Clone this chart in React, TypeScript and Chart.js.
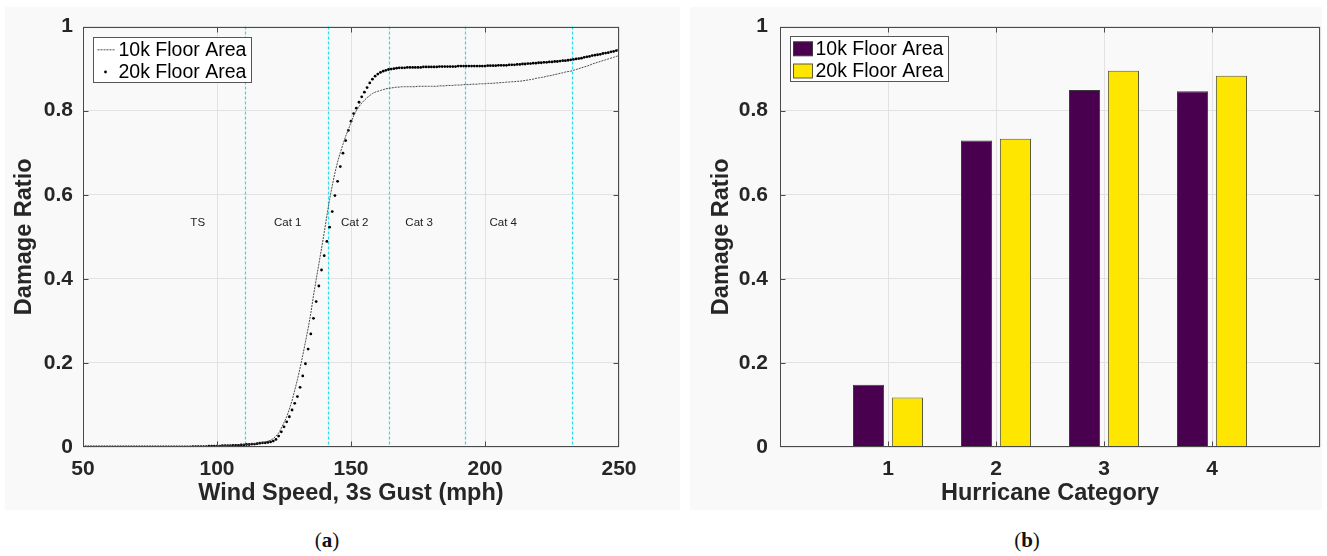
import React, { useEffect, useRef } from 'react';
import { Chart, registerables } from 'chart.js';

Chart.register(...registerables);

const FONT = "'Liberation Sans', Arial, Helvetica, sans-serif";
const TEXT_COLOR = '#262626';
const GRID_COLOR = '#e2e2e2';
const PANEL_BG = '#f9f9f9';

// ---------- Panel (a): damage ratio vs wind speed ----------
const windStart = 50;
const windEnd = 250;
const windSpeeds: number[] = Array.from({ length: windEnd - windStart + 1 }, (_, i) => windStart + i);

const damage10k: number[] = [
  // 50-89
  0, 0, 0, 0, 0, 0, 0, 0, 0, 0, 0, 0, 0, 0, 0, 0, 0, 0, 0, 0,
  0, 0, 0, 0, 0, 0, 0, 0, 0, 0, 0, 0, 0, 0, 0, 0, 0, 0, 0, 0,
  // 90-120
  0.000, 0.001, 0.001, 0.001, 0.001, 0.001, 0.001, 0.002, 0.002, 0.002,
  0.002, 0.003, 0.003, 0.003, 0.003, 0.004, 0.004, 0.004, 0.005, 0.005,
  0.006, 0.006, 0.007, 0.008, 0.008, 0.009, 0.010, 0.011, 0.012, 0.014, 0.016,
  // 121-168
  0.020, 0.026, 0.033, 0.045, 0.058, 0.072, 0.090, 0.110, 0.135, 0.160,
  0.188, 0.218, 0.250, 0.282, 0.318, 0.360, 0.398, 0.435, 0.472, 0.510,
  0.550, 0.588, 0.622, 0.652, 0.678, 0.700, 0.720, 0.739, 0.755, 0.772,
  0.788, 0.800, 0.810, 0.818, 0.825, 0.831, 0.836, 0.841, 0.844, 0.846,
  0.848, 0.850, 0.852, 0.853, 0.854, 0.855, 0.856, 0.856,
  // 169-250
  0.857, 0.857, 0.857, 0.857, 0.857, 0.857, 0.858, 0.858, 0.858, 0.858, 0.858, 0.858,
  0.858, 0.858, 0.859, 0.859, 0.859, 0.860, 0.860, 0.860, 0.861, 0.861,
  0.861, 0.862, 0.862, 0.862, 0.863, 0.863, 0.863, 0.864, 0.864, 0.864,
  0.865, 0.865, 0.865, 0.866, 0.866, 0.867, 0.867, 0.868, 0.868, 0.869,
  0.869, 0.870, 0.870, 0.871, 0.872, 0.873, 0.874, 0.875, 0.877, 0.878,
  0.879, 0.880, 0.882, 0.883, 0.884, 0.886, 0.887, 0.889, 0.890, 0.892,
  0.893, 0.894, 0.896, 0.898, 0.900, 0.902, 0.904, 0.906, 0.908, 0.911,
  0.913, 0.915, 0.917, 0.919, 0.921, 0.923, 0.925, 0.927, 0.929, 0.931,
];

const damage20k: number[] = [
  // 50-89
  0, 0, 0, 0, 0, 0, 0, 0, 0, 0, 0, 0, 0, 0, 0, 0, 0, 0, 0, 0,
  0, 0, 0, 0, 0, 0, 0, 0, 0, 0, 0, 0, 0, 0, 0, 0, 0, 0, 0, 0,
  // 90-120
  0.000, 0.001, 0.001, 0.001, 0.001, 0.001, 0.001, 0.002, 0.002, 0.002,
  0.002, 0.002, 0.003, 0.003, 0.003, 0.003, 0.004, 0.004, 0.004, 0.005,
  0.005, 0.006, 0.006, 0.007, 0.007, 0.008, 0.009, 0.010, 0.010, 0.011, 0.012,
  // 121-168
  0.014, 0.018, 0.026, 0.036, 0.048, 0.060, 0.072, 0.088, 0.104, 0.120,
  0.142, 0.169, 0.198, 0.233, 0.269, 0.306, 0.346, 0.383, 0.421, 0.455,
  0.489, 0.523, 0.560, 0.598, 0.632, 0.667, 0.699, 0.729, 0.753, 0.775,
  0.793, 0.806, 0.820, 0.833, 0.844, 0.855, 0.866, 0.875, 0.882, 0.887,
  0.891, 0.894, 0.896, 0.898, 0.899, 0.900, 0.901, 0.902,
  // 169-250
  0.902, 0.902, 0.903, 0.903, 0.903, 0.903, 0.903, 0.903, 0.904, 0.904, 0.904, 0.904,
  0.904, 0.904, 0.905, 0.905, 0.905, 0.905, 0.905, 0.905, 0.905, 0.906,
  0.906, 0.906, 0.906, 0.906, 0.906, 0.906, 0.906, 0.906, 0.906, 0.906,
  0.907, 0.907, 0.907, 0.907, 0.908, 0.908, 0.908, 0.908, 0.909, 0.909,
  0.909, 0.910, 0.910, 0.911, 0.911, 0.912, 0.912, 0.913, 0.913, 0.914,
  0.914, 0.915, 0.915, 0.916, 0.916, 0.917, 0.917, 0.918, 0.919, 0.919,
  0.920, 0.921, 0.922, 0.923, 0.924, 0.925, 0.927, 0.928, 0.929, 0.931,
  0.932, 0.933, 0.934, 0.936, 0.937, 0.938, 0.940, 0.941, 0.943, 0.945,
];

const categoryBoundaries: number[] = [110.5, 141.5, 164, 192.5, 232.5];
const categoryNames: string[] = ['TS', 'Cat 1', 'Cat 2', 'Cat 3', 'Cat 4'];
const categoryLabelX: number[] = [92.8, 126.4, 151.4, 175.4, 206.8];
const categoryLabelY = 0.533;

// ---------- Panel (b): damage ratio per hurricane category ----------
const hurricaneCategories: number[] = [1, 2, 3, 4];
const barDamage10k: number[] = [0.148, 0.729, 0.849, 0.846];
const barDamage20k: number[] = [0.118, 0.733, 0.895, 0.883];

const seriesLabels: string[] = ['10k Floor Area', '20k Floor Area'];

// ---------- plugins ----------
const boxPlugin = {
  id: 'matlabBox',
  afterDatasetsDraw(chart: any) {
    const { ctx, chartArea: a, scales } = chart;
    const l = Math.round(a.left) + 0.5;
    const r = Math.round(a.right) - 0.5;
    const t = Math.round(a.top) + 0.5;
    const b = Math.round(a.bottom) - 0.5;
    ctx.save();
    ctx.strokeStyle = '#4a4a4a';
    ctx.lineWidth = 1;
    ctx.strokeRect(l, t, r - l, b - t);
    const tl = 5;
    ctx.beginPath();
    scales.x.ticks.forEach((_: any, i: number) => {
      const px = Math.round(scales.x.getPixelForTick(i)) + 0.5;
      if (px <= l + 1 || px >= r - 1) return;
      ctx.moveTo(px, b);
      ctx.lineTo(px, b - tl);
      ctx.moveTo(px, t);
      ctx.lineTo(px, t + tl);
    });
    scales.y.ticks.forEach((_: any, i: number) => {
      const py = Math.round(scales.y.getPixelForTick(i)) + 0.5;
      if (py <= t + 1 || py >= b - 1) return;
      ctx.moveTo(l, py);
      ctx.lineTo(l + tl, py);
      ctx.moveTo(r, py);
      ctx.lineTo(r - tl, py);
    });
    ctx.stroke();
    ctx.restore();
  },
};

const categoryPlugin = {
  id: 'categoryMarks',
  beforeDatasetsDraw(chart: any) {
    const { ctx, chartArea: a, scales } = chart;
    ctx.save();
    ctx.strokeStyle = '#22e0ee';
    ctx.lineWidth = 1.2;
    ctx.setLineDash([3, 2]);
    categoryBoundaries.forEach((v) => {
      const px = Math.round(scales.x.getPixelForValue(v)) + 0.5;
      ctx.beginPath();
      ctx.moveTo(px, a.top);
      ctx.lineTo(px, a.bottom);
      ctx.stroke();
    });
    ctx.setLineDash([]);
    ctx.fillStyle = '#222';
    ctx.font = `11.5px ${FONT}`;
    ctx.textAlign = 'center';
    ctx.textBaseline = 'middle';
    categoryNames.forEach((name, i) => {
      ctx.fillText(name, scales.x.getPixelForValue(categoryLabelX[i]), scales.y.getPixelForValue(categoryLabelY));
    });
    ctx.restore();
  },
};

const legendPlugin = {
  id: 'boxLegend',
  afterDraw(chart: any, _args: any, opts: any) {
    const { ctx, chartArea: a } = chart;
    const datasets = chart.data.datasets;
    ctx.save();
    ctx.font = `19.5px ${FONT}`;
    const textW = Math.max(...datasets.map((d: any) => ctx.measureText(d.label).width));
    const x0 = Math.round(a.left + opts.dx) + 0.5;
    const y0 = Math.round(a.top + opts.dy) + 0.5;
    const w = Math.round(25 + textW + 5);
    const h = 45;
    ctx.fillStyle = '#ffffff';
    ctx.fillRect(x0, y0, w, h);
    ctx.strokeStyle = '#555';
    ctx.lineWidth = 1;
    ctx.strokeRect(x0, y0, w, h);
    const rows = [y0 + 12.3, y0 + 34.5];
    datasets.forEach((d: any, i: number) => {
      const cy = rows[i];
      if (opts.kind === 'line') {
        if (d.showLine === false) {
          ctx.fillStyle = '#000';
          ctx.beginPath();
          ctx.arc(x0 + 12, cy, 1.4, 0, Math.PI * 2);
          ctx.fill();
        } else {
          ctx.strokeStyle = d.borderColor;
          ctx.lineWidth = 1;
          ctx.setLineDash([2, 1]);
          ctx.beginPath();
          ctx.moveTo(x0 + 4, cy);
          ctx.lineTo(x0 + 22, cy);
          ctx.stroke();
          ctx.setLineDash([]);
        }
      } else {
        ctx.fillStyle = d.backgroundColor;
        ctx.fillRect(x0 + 3, cy - 7, 19, 14);
        ctx.strokeStyle = d.borderColor;
        ctx.lineWidth = 1;
        ctx.strokeRect(x0 + 3, cy - 7, 19, 14);
      }
      ctx.fillStyle = '#000';
      ctx.font = `19.5px ${FONT}`;
      ctx.textAlign = 'left';
      ctx.textBaseline = 'middle';
      ctx.fillText(d.label, x0 + 25, cy + 1);
    });
    ctx.restore();
  },
};

const tickFont = { family: FONT, size: 21, weight: 'bold' as const };
const titleFont = { family: FONT, size: 23.5, weight: 'bold' as const };

const yTickLabel = (v: any) => String(Number(Number(v).toFixed(1)));

function axisCommon() {
  return {
    grid: { color: GRID_COLOR, drawTicks: false, lineWidth: 1 },
    border: { display: false },
  };
}

export default function App() {
  const leftRef = useRef<HTMLCanvasElement | null>(null);
  const rightRef = useRef<HTMLCanvasElement | null>(null);

  useEffect(() => {
    if (!leftRef.current || !rightRef.current) return;

    const left = new Chart(leftRef.current, {
      type: 'line',
      data: {
        datasets: [
          {
            label: seriesLabels[0],
            data: windSpeeds.map((x, i) => ({ x, y: damage10k[i] })),
            borderColor: '#4a4a4a',
            borderWidth: 1,
            borderDash: [2, 1],
            pointRadius: 0,
            tension: 0,
            fill: false,
          },
          {
            label: seriesLabels[1],
            data: windSpeeds.map((x, i) => ({ x, y: damage20k[i] })),
            showLine: false,
            pointRadius: 1.4,
            pointBackgroundColor: '#000',
            pointBorderWidth: 0,
            pointHoverRadius: 0,
          },
        ],
      },
      options: {
        responsive: false,
        animation: false,
        events: [],
        layout: { padding: { left: 0, top: 20, right: 61, bottom: 0 } },
        plugins: {
          legend: { display: false },
          tooltip: { enabled: false },
          boxLegend: { kind: 'line', dx: 10, dy: 10 },
        } as any,
        scales: {
          x: {
            type: 'linear',
            min: windStart,
            max: windEnd,
            ...axisCommon(),
            ticks: { stepSize: 50, font: tickFont, color: TEXT_COLOR, padding: 10, maxRotation: 0 },
            title: {
              display: true,
              text: 'Wind Speed, 3s Gust (mph)',
              font: titleFont,
              color: TEXT_COLOR,
              padding: { top: 0, bottom: 2 },
            },
            afterFit: (s: any) => {
              s.height = 63;
            },
          },
          y: {
            type: 'linear',
            min: 0,
            max: 1,
            ...axisCommon(),
            ticks: { stepSize: 0.2, font: tickFont, color: TEXT_COLOR, padding: 10, callback: yTickLabel },
            title: {
              display: true,
              text: 'Damage Ratio',
              font: titleFont,
              color: TEXT_COLOR,
              padding: { top: 5, bottom: 0 },
            },
            afterFit: (s: any) => {
              s.width = 78;
            },
          },
        },
      } as any,
      plugins: [categoryPlugin, boxPlugin, legendPlugin],
    });

    const right = new Chart(rightRef.current, {
      type: 'bar',
      data: {
        datasets: [
          {
            label: seriesLabels[0],
            data: hurricaneCategories.map((x, i) => ({ x, y: barDamage10k[i] })),
            backgroundColor: '#48004f',
            borderColor: '#3a3a3a',
            borderWidth: 1,
            categoryPercentage: 0.72,
            barPercentage: 0.8,
          },
          {
            label: seriesLabels[1],
            data: hurricaneCategories.map((x, i) => ({ x, y: barDamage20k[i] })),
            backgroundColor: '#ffe600',
            borderColor: '#5a5a3a',
            borderWidth: 1,
            categoryPercentage: 0.72,
            barPercentage: 0.8,
          },
        ],
      },
      options: {
        responsive: false,
        animation: false,
        events: [],
        layout: { padding: { left: 0, top: 20, right: 2, bottom: 0 } },
        plugins: {
          legend: { display: false },
          tooltip: { enabled: false },
          boxLegend: { kind: 'bar', dx: 10, dy: 9 },
        } as any,
        scales: {
          x: {
            type: 'linear',
            min: 0,
            max: 5,
            offset: false,
            ...axisCommon(),
            grid: { color: GRID_COLOR, drawTicks: false, offset: false },
            ticks: {
              stepSize: 1,
              font: tickFont,
              color: TEXT_COLOR,
              padding: 10,
              maxRotation: 0,
              callback: (v: any) => (hurricaneCategories.includes(Number(v)) ? String(v) : ''),
            },
            title: {
              display: true,
              text: 'Hurricane Category',
              font: titleFont,
              color: TEXT_COLOR,
              padding: { top: 0, bottom: 2 },
            },
            afterFit: (s: any) => {
              s.height = 63;
            },
          },
          y: {
            type: 'linear',
            min: 0,
            max: 1,
            ...axisCommon(),
            ticks: { stepSize: 0.2, font: tickFont, color: TEXT_COLOR, padding: 12, callback: yTickLabel },
            title: {
              display: true,
              text: 'Damage Ratio',
              font: titleFont,
              color: TEXT_COLOR,
              padding: { top: 17, bottom: 0 },
            },
            afterFit: (s: any) => {
              s.width = 90;
            },
          },
        },
      } as any,
      plugins: [boxPlugin, legendPlugin],
    });

    return () => {
      left.destroy();
      right.destroy();
    };
  }, []);

  const captionStyle: React.CSSProperties = {
    position: 'absolute',
    top: 527,
    width: 80,
    textAlign: 'center',
    fontFamily: "'Liberation Serif', 'Times New Roman', serif",
    fontSize: 21,
    lineHeight: '26px',
    color: '#111',
  };

  return (
    <div
      style={{
        position: 'fixed',
        left: 0,
        top: 0,
        width: 1327,
        height: 556,
        background: '#ffffff',
        overflow: 'hidden',
      }}
    >
      <div style={{ position: 'absolute', left: 5, top: 7, width: 675, height: 503, background: PANEL_BG }} />
      <div style={{ position: 'absolute', left: 690, top: 7, width: 632, height: 503, background: PANEL_BG }} />
      <canvas
        ref={leftRef}
        width={675}
        height={506}
        style={{ position: 'absolute', left: 5, top: 4, width: 675, height: 506 }}
      />
      <canvas
        ref={rightRef}
        width={640}
        height={508}
        style={{ position: 'absolute', left: 690, top: 2, width: 640, height: 508 }}
      />
      <div style={{ ...captionStyle, left: 327 - 40 }}>
        (<b>a</b>)
      </div>
      <div style={{ ...captionStyle, left: 1027 - 40 }}>
        (<b>b</b>)
      </div>
    </div>
  );
}
